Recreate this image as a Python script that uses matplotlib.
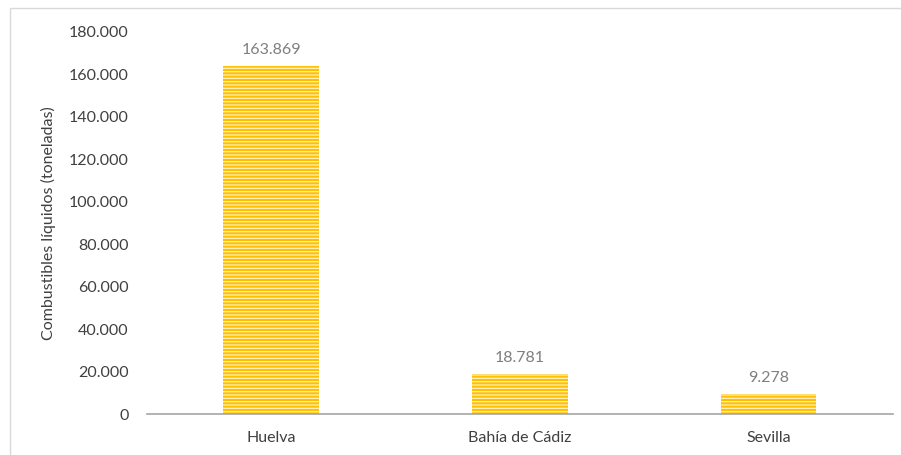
import matplotlib.pyplot as plt
from matplotlib.patches import Rectangle
from matplotlib.ticker import FuncFormatter
import numpy as np

# Combustibles líquidos por puerto (toneladas)
puertos = ["Huelva", "Bahía de Cádiz", "Sevilla"]
toneladas = [163869, 18781, 9278]
yticks = [0, 20000, 40000, 60000, 80000, 100000, 120000, 140000, 160000, 180000]

plt.rcParams["font.family"] = ["Lato", "DejaVu Sans"]
plt.rcParams["hatch.linewidth"] = 0.9

fig = plt.figure(figsize=(9.01, 4.55), dpi=100)
ax = fig.add_axes([0.163, 0.090, 0.828, 0.840])

# marco exterior gris claro
fig.patches.append(Rectangle((10 / 901, -0.01), 1.0, 1 - 8 / 455 + 0.01,
                             transform=fig.transFigure, fill=False,
                             edgecolor="#D9D9D9", linewidth=1.0))

x = np.arange(len(puertos))
barras = ax.bar(x, toneladas, width=0.385, color="#FFC000",
                edgecolor="#FFF0C0", linewidth=0, hatch="-----", zorder=2)

for xi, val in zip(x, toneladas):
    ax.text(xi, val + 4500, f"{val:,}".replace(",", "."), ha="center",
            va="bottom", fontsize=11.5, color="#7F7F7F")

ax.set_xlim(-0.5, len(puertos) - 0.5)
ax.set_ylim(0, 180000)
ax.set_yticks(yticks)
ax.yaxis.set_major_formatter(FuncFormatter(lambda v, p: f"{int(v):,}".replace(",", ".")))
ax.set_xticks(x)
ax.set_xticklabels(puertos)
ax.tick_params(axis="both", length=0, labelsize=11.5, colors="#404040")
ax.tick_params(axis="y", pad=13)
ax.tick_params(axis="x", pad=12)

for s in ["top", "right", "left"]:
    ax.spines[s].set_visible(False)
ax.spines["bottom"].set_color("#A6A6A6")
ax.spines["bottom"].set_linewidth(1.2)

ax.set_ylabel("Combustibles líquidos (toneladas)", fontsize=11.5,
              color="#404040", labelpad=9)

fig.savefig("out.png", dpi=100)
